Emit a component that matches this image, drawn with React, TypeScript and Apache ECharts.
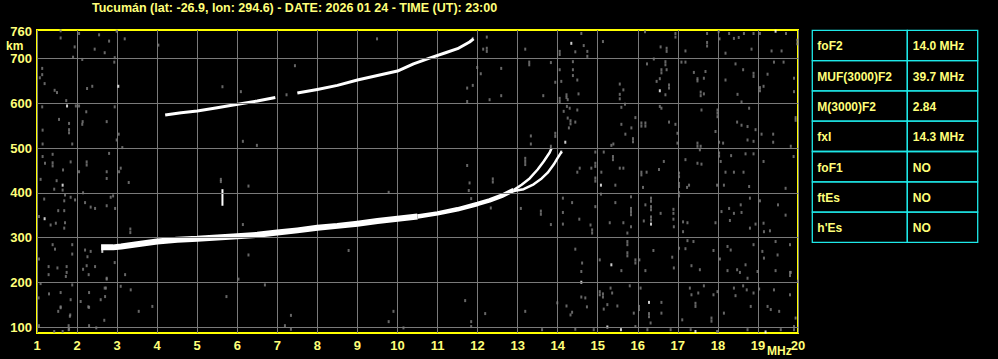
import React, { useEffect, useRef } from "react";
import * as echarts from "echarts";

const TITLE = "Tucumán (lat: -26.9, lon: 294.6) - DATE: 2026 01 24 - TIME (UT): 23:00";
const FREQ_MIN = 1;
const FREQ_MAX = 20;
const HEIGHT_MIN = 86.6;
const HEIGHT_MAX = 763.8;
const heightGrid = [100, 200, 300, 400, 500, 600, 700];
const heightTopLabel = 760;
const freqUnit = "MHz";
const heightUnit = "km";

// F2 ordinary trace (thick part)
const oTraceLow: [number, number][] = [
  [2.6, 278], [2.9, 278], [3.1, 280], [3.5, 285], [4.0, 291], [4.5, 295], [5.0, 297],
  [5.5, 300], [6.0, 303], [6.5, 306], [7.0, 311], [7.5, 316], [8.0, 322], [8.5, 326],
  [9.0, 331], [9.5, 337], [10.0, 342], [10.5, 347],
];
const oTraceMid: [number, number][] = [
  [10.5, 347], [11.0, 354], [11.5, 363], [12.0, 375], [12.3, 383], [12.6, 393], [12.9, 406],
];
const oTraceHigh: [number, number][] = [
  [12.9, 406], [13.1, 418], [13.3, 432], [13.5, 452], [13.65, 470], [13.8, 490], [13.85, 500],
];
const xTrace: [number, number][] = [
  [12.9, 404], [13.15, 408], [13.4, 419], [13.6, 432], [13.75, 445], [13.9, 463], [14.0, 478], [14.1, 492],
];
// second hop (2F) trace
const secondHop: ([number, number] | [number, null])[] = [
  [4.2, 574], [4.6, 579], [5.0, 583], [5.5, 590], [5.9, 596], [6.5, 605], [6.95, 613], [7.2, null],
  [7.5, 623], [8.0, 631], [8.5, 640], [9.0, 652], [9.5, 662], [10.0, 672], [10.4, 688],
  [10.8, 701], [11.2, 713], [11.5, 722], [11.8, 737], [11.9, 744],
];
const spike: [number, number][] = [[5.63, 371], [5.63, 408]];

const noiseWhite: [number, number][] = [
  [14.34, 734], [16.55, 628], [14.19, 513], [14.09, 491], [15.08, 417], [16.33, 330], [15.34, 239],
  [14.59, 200], [16.28, 155], [15.24, 100], [15.58, 94], [17.44, 90], [19.19, 89], [19.44, 761],
  [1.64, 417], [1.19, 342], [1.75, 594], [3.03, 638], [2.63, 269], [2.84, 280],
];

const noiseGray: [number, number][] = [
  [14.59, 756], [14.44, 715], [14.65, 729], [14.74, 705], [14.74, 716], [15.13, 738], [16.18, 760],
  [16.57, 726], [16.72, 723], [16.72, 716], [16.94, 756], [16.94, 748], [17.19, 717], [17.73, 756],
  [17.73, 736], [17.73, 728], [18.02, 760], [18.04, 744], [18.19, 712], [18.28, 756], [18.4, 745],
  [18.52, 747], [18.65, 756], [18.84, 721], [18.89, 756], [19.05, 756], [19.34, 717], [19.59, 717],
  [19.7, 756], [19.98, 741], [19.98, 733],
  [14.38, 693], [14.38, 675], [14.38, 662], [14.49, 652], [14.09, 649], [14.22, 619], [14.22, 613],
  [14.25, 608], [14.52, 621], [15.55, 643], [15.64, 630], [15.55, 620], [15.55, 610], [16.23, 688],
  [16.4, 699], [16.59, 675], [16.59, 668], [16.47, 649], [16.55, 655], [16.69, 693], [16.69, 686],
  [16.72, 675], [16.78, 634], [16.78, 641], [16.69, 619], [17.09, 692], [17.19, 692], [17.4, 669],
  [17.49, 655], [17.49, 650], [17.57, 625], [17.57, 617], [17.65, 621], [17.69, 671], [17.65, 656],
  [18.19, 652], [18.44, 688], [18.63, 675], [18.89, 667], [18.89, 660], [18.49, 620], [18.59, 603],
  [19.05, 635], [19.05, 628], [19.14, 638], [19.24, 665], [19.4, 692], [19.64, 692], [19.9, 656],
  [19.9, 626],
  [14.23, 593], [14.3, 589], [14.49, 585], [14.15, 582], [14.25, 567], [14.32, 561], [14.32, 554],
  [14.44, 558], [14.28, 545], [15.59, 591], [15.68, 598], [15.94, 568], [15.84, 545], [15.59, 553],
  [15.69, 531], [15.88, 521], [15.88, 514], [15.34, 506], [15.39, 509], [16.09, 556], [16.09, 549],
  [16.19, 556], [16.19, 549], [16.55, 593], [16.59, 589], [16.78, 558], [16.94, 553], [16.99, 533],
  [16.99, 511], [17.59, 585], [17.99, 585], [17.99, 578], [17.99, 570], [17.94, 537], [18.03, 513],
  [18.13, 511], [17.49, 511], [17.49, 504], [17.57, 504], [18.48, 558], [18.59, 551], [18.74, 548],
  [18.78, 589], [18.94, 541], [18.74, 518], [18.89, 515], [19.09, 531], [19.38, 531], [19.38, 513],
  [19.94, 568], [19.94, 562],
  [14.49, 446], [14.55, 455], [14.94, 491], [14.94, 466], [14.94, 459], [14.94, 433], [14.94, 426],
  [14.84, 455], [15.15, 491], [15.38, 481], [15.38, 474], [15.09, 446], [15.55, 455], [15.64, 455],
  [16.09, 440], [16.09, 446], [16.22, 446], [16.53, 452], [16.65, 470], [17.03, 444], [17.03, 436],
  [17.19, 474], [17.49, 466], [17.55, 496], [17.59, 464], [18.03, 489], [18.03, 482], [18.07, 470],
  [18.33, 483], [18.19, 446], [18.4, 446], [18.64, 446], [18.69, 487], [18.89, 487], [19.14, 470],
  [19.82, 504], [19.89, 481],
  [15.44, 417], [16.13, 412], [17.03, 421], [17.03, 414], [17.23, 412], [17.28, 417], [17.98, 417],
  [18.15, 417], [18.78, 414], [19.69, 410],
  [14.13, 388], [14.13, 356], [14.36, 378], [14.13, 330], [14.54, 341], [14.82, 328], [14.86, 317],
  [14.86, 310], [14.94, 369], [15.08, 397], [15.44, 378], [15.3, 333], [15.64, 333], [15.83, 358],
  [15.83, 365], [15.83, 351], [15.83, 324], [15.74, 310], [15.83, 391], [16.33, 388], [16.33, 381],
  [16.33, 369], [16.33, 362], [16.33, 339], [16.33, 346], [16.19, 373], [16.15, 337], [16.57, 354],
  [16.89, 363], [16.89, 354], [16.89, 341], [16.9, 324], [17.03, 400], [17.03, 393], [17.13, 335],
  [17.13, 313], [17.24, 333], [17.94, 333], [18.09, 358], [18.28, 365], [18.4, 354], [18.57, 373],
  [18.59, 356], [18.3, 338], [18.8, 388], [18.8, 321], [18.94, 330], [19.05, 382], [19.14, 332],
  [19.15, 313], [19.3, 315], [19.5, 373], [19.69, 350],
  [14.44, 274], [14.61, 243], [14.59, 224], [15.05, 250], [15.59, 226], [15.74, 291], [15.74, 284],
  [15.74, 266], [15.74, 259], [15.94, 243], [15.94, 250], [16.04, 250], [16.19, 226], [16.39, 271],
  [16.86, 256], [16.9, 232], [17.03, 276], [17.19, 275], [17.24, 293], [17.39, 291], [17.34, 237],
  [17.55, 228], [17.89, 271], [18.05, 252], [18.24, 280], [18.32, 272], [18.24, 226], [18.48, 228],
  [18.55, 222], [18.69, 239], [18.74, 209], [18.89, 284], [18.99, 224], [19.11, 269], [19.15, 254],
  [19.44, 291], [19.49, 261], [19.44, 226], [19.8, 222], [19.8, 215], [19.8, 284], [20.0, 202],
  [14.22, 147], [14.36, 133], [14.59, 167], [14.69, 165], [14.73, 145], [15.05, 172], [15.05, 179],
  [15.13, 174], [15.13, 167], [15.36, 176], [15.32, 187], [15.24, 150], [15.15, 140], [15.49, 147],
  [15.8, 192], [15.9, 131], [16.07, 187], [16.03, 146], [16.03, 139], [16.28, 130], [16.28, 123],
  [16.32, 109], [16.59, 155], [16.59, 131], [17.11, 116], [17.3, 187], [17.34, 172], [17.44, 153],
  [17.44, 146], [17.51, 176], [17.65, 192], [17.84, 120], [17.84, 113], [17.89, 172], [17.99, 179],
  [18.15, 131], [18.4, 187], [18.44, 170], [18.63, 192], [18.72, 183], [18.82, 146], [18.89, 176],
  [19.03, 185], [19.24, 146], [19.32, 139], [19.4, 183], [19.53, 135], [19.82, 222], [19.8, 172],
  [19.94, 120],
  [14.44, 95], [14.9, 94], [15.94, 101], [16.24, 94], [16.82, 94], [17.32, 94], [17.98, 90],
  [18.74, 94], [19.57, 94], [19.9, 94], [19.9, 101], [13.19, 135], [13.61, 94], [13.99, 154],
  [14.32, 127],
  [1.8, 555], [1.8, 534], [1.8, 541], [1.14, 540], [1.14, 509], [1.88, 509], [2.14, 559], [2.74, 559],
  [3.04, 531], [2.99, 518], [3.13, 501], [2.8, 488], [2.74, 447], [2.74, 432], [3.05, 447], [3.29, 423],
  [3.09, 455], [1.14, 481], [1.39, 486], [1.39, 467], [1.39, 460], [1.2, 466], [1.65, 451], [1.84, 469],
  [2.24, 462], [2.24, 469], [2.05, 447], [1.09, 430], [1.49, 427], [1.64, 406], [1.43, 408], [1.18, 386],
  [1.7, 395], [1.68, 382], [1.84, 390], [1.95, 384], [2.15, 400], [2.2, 378], [2.34, 368], [2.45, 365],
  [2.74, 371], [2.9, 393], [2.84, 390], [2.95, 365], [3.33, 319], [3.33, 311],
  [1.05, 347], [1.34, 328], [1.47, 332], [1.53, 360], [1.68, 360], [1.7, 333], [1.68, 321], [1.39, 284],
  [1.45, 274], [1.88, 284], [1.88, 263], [2.2, 272], [2.34, 269], [2.26, 257], [2.24, 237], [2.45, 235],
  [2.29, 217], [2.15, 229], [1.29, 235], [1.29, 217], [1.51, 232], [1.74, 235], [1.74, 222], [1.72, 213],
  [1.88, 194], [1.09, 197], [1.3, 174], [1.59, 177], [1.84, 161], [2.09, 157], [2.3, 144], [2.59, 161],
  [2.3, 177], [2.72, 187], [2.7, 168], [2.74, 207], [2.94, 244], [3.2, 217], [3.09, 191], [3.34, 183],
  [3.88, 146], [3.54, 135], [2.68, 115], [1.82, 124], [1.59, 143], [1.53, 135], [1.05, 103], [1.43, 90],
  [1.64, 90], [1.8, 95], [2.3, 103], [1.04, 165], [1.05, 252], [1.59, 145], [1.83, 127], [1.79, 103],
  [1.79, 94], [2.28, 145], [2.48, 98], [7.19, 103], [7.34, 126], [7.34, 95], [9.78, 112], [9.9, 135],
  [10.15, 98], [11.69, 159], [11.84, 112], [11.84, 101], [12.19, 130],
  [1.59, 762], [1.59, 746], [2.05, 756], [2.55, 753], [2.99, 761], [3.19, 744], [11.88, 745],
  [2.8, 739], [1.94, 726], [2.44, 721], [2.69, 713], [2.94, 702], [1.13, 678], [1.13, 664], [1.07, 657],
  [1.19, 644], [1.44, 629], [1.5, 624], [1.73, 606], [1.97, 594], [2.05, 594], [2.23, 581], [2.25, 633],
  [2.38, 638], [2.13, 553], [1.55, 564], [1.13, 592], [2.94, 592], [2.93, 692], [2.13, 698], [1.9, 703],
  [4.03, 730], [5.63, 637], [5.59, 430], [5.59, 425], [6.28, 261], [6.03, 207], [6.69, 194], [5.73, 168],
  [8.78, 271], [2.74, 209], [2.69, 187],
  [9.49, 744], [7.44, 684], [6.09, 626], [7.23, 619], [6.14, 515], [6.49, 506], [6.28, 415], [9.78, 401],
  [6.14, 329], [11.74, 461], [11.8, 422], [11.78, 405], [11.84, 387], [12.38, 431], [12.38, 424],
  [12.33, 366], [13.08, 365], [13.58, 359], [13.58, 352], [13.83, 329], [11.74, 604], [11.88, 640],
  [11.74, 634], [11.99, 680], [12.08, 666], [12.23, 748], [12.23, 723], [12.23, 716], [12.14, 721],
  [12.59, 678], [12.59, 617], [13.19, 721], [13.29, 692], [13.29, 686], [13.64, 617], [13.83, 691],
  [13.94, 647], [14.05, 716], [14.05, 709], [14.05, 675], [14.05, 611], [14.05, 604], [13.94, 533],
  [13.94, 526], [13.33, 527], [13.33, 509], [13.19, 470], [13.19, 463], [13.19, 477], [13.83, 504],
  [12.3, 608],
];

const tableParams = ["foF2", "MUF(3000)F2", "M(3000)F2", "fxI", "foF1", "ftEs", "h'Es"];
const tableValues = ["14.0 MHz", "39.7 MHz", "2.84", "14.3 MHz", "NO", "NO", "NO"];

const YELLOW_TEXT = "#ffff7a";
const YELLOW_LINE = "#ffff00";
const GRID_GRAY = "#7a7a7a";
const NOISE_GRAY = "#808080";
const CYAN = "#1ee8e8";
const FONT = "Liberation Sans";

export default function App() {
  const ref = useRef<HTMLDivElement>(null);

  useEffect(() => {
    if (!ref.current) return;
    const chart = echarts.init(ref.current, undefined, { renderer: "svg" });

    const table: any[] = [];
    const tX = 812.3;
    const tY = 30.3;
    const rowH = 30.3;
    const c1W = 95;
    const c2W = 70.4;
    tableParams.forEach((p, i) => {
      const y = tY + i * rowH;
      table.push({
        type: "rect",
        shape: { x: tX, y, width: c1W, height: rowH },
        style: { fill: "transparent", stroke: CYAN, lineWidth: 1.3 },
      });
      table.push({
        type: "rect",
        shape: { x: tX + c1W, y, width: c2W, height: rowH },
        style: { fill: "transparent", stroke: CYAN, lineWidth: 1.3 },
      });
      table.push({
        type: "text",
        x: tX + 5,
        y: y + rowH / 2 + 1,
        style: {
          text: p,
          fill: YELLOW_TEXT,
          font: `bold 12px "${FONT}"`,
          verticalAlign: "middle",
          align: "left",
        },
      });
      table.push({
        type: "text",
        x: tX + c1W + 5.5,
        y: y + rowH / 2 + 1,
        style: {
          text: tableValues[i],
          fill: YELLOW_TEXT,
          font: `bold 12px "${FONT}"`,
          verticalAlign: "middle",
          align: "left",
        },
      });
    });

    const lineLabel = {
      show: true,
      position: "start",
      distance: 5,
      color: YELLOW_TEXT,
      fontWeight: "bold",
      fontSize: 13,
      fontFamily: FONT,
      lineHeight: 13,
      formatter: (p: any) => String(p.value),
    };

    const traceSeries = (data: any[], width: number) => ({
      type: "line",
      data,
      showSymbol: false,
      symbol: "none",
      connectNulls: false,
      lineStyle: { color: "#ffffff", width, cap: "butt", join: "round" },
      silent: true,
      z: 4,
    });

    chart.setOption({
      animation: false,
      backgroundColor: "#000000",
      title: {
        text: TITLE,
        left: 92,
        top: 1,
        padding: 0,
        textStyle: { color: YELLOW_TEXT, fontSize: 12.5, fontWeight: "bold", fontFamily: FONT },
      },
      grid: {
        left: 37,
        right: 200,
        top: 30,
        bottom: 26,
        show: true,
        borderColor: YELLOW_LINE,
        borderWidth: 2,
        backgroundColor: "transparent",
      },
      xAxis: {
        type: "value",
        min: FREQ_MIN,
        max: FREQ_MAX,
        interval: 1,
        axisLine: { show: false },
        axisTick: { show: false },
        splitLine: { show: true, lineStyle: { color: GRID_GRAY, width: 1 } },
        axisLabel: {
          color: YELLOW_TEXT,
          fontWeight: "bold",
          fontSize: 13,
          fontFamily: FONT,
          margin: 6,
          showMinLabel: true,
          showMaxLabel: true,
        },
      },
      yAxis: {
        type: "value",
        min: HEIGHT_MIN,
        max: HEIGHT_MAX,
        axisLine: { show: false },
        axisTick: { show: false },
        axisLabel: { show: false },
        splitLine: { show: false },
      },
      graphic: [
        {
          type: "text",
          left: 6,
          top: 39.5,
          style: { text: heightUnit, fill: YELLOW_TEXT, font: `bold 12px "${FONT}"`, lineHeight: 12 },
        },
        {
          type: "text",
          left: 767,
          top: 345,
          style: { text: freqUnit, fill: YELLOW_TEXT, font: `bold 12px "${FONT}"` },
        },
        ...table,
      ],
      series: [
        {
          type: "scatter",
          data: noiseGray,
          symbol: "rect",
          symbolSize: [2, 3],
          itemStyle: { color: NOISE_GRAY },
          silent: true,
          z: 3,
          markLine: {
            silent: true,
            symbol: ["none", "none"],
            animation: false,
            lineStyle: { color: GRID_GRAY, width: 1, type: "solid" },
            label: lineLabel,
            data: [
              ...heightGrid.map((v) => ({ yAxis: v })),
              { yAxis: heightTopLabel, lineStyle: { color: "rgba(0,0,0,0)", width: 0.01 } },
            ],
          },
        },
        {
          type: "scatter",
          data: noiseWhite,
          symbol: "rect",
          symbolSize: [2, 3],
          itemStyle: { color: "#ffffff" },
          silent: true,
          z: 3,
        },
        traceSeries(oTraceLow, 6),
        traceSeries(oTraceMid, 4.5),
        traceSeries(oTraceHigh, 2.5),
        traceSeries(xTrace, 2.5),
        traceSeries(secondHop, 3),
        traceSeries(spike, 2),
      ],
    });

    return () => chart.dispose();
  }, []);

  return (
    <div
      ref={ref}
      style={{ position: "fixed", left: 0, top: 0, width: 998, height: 359, background: "#000" }}
    />
  );
}
